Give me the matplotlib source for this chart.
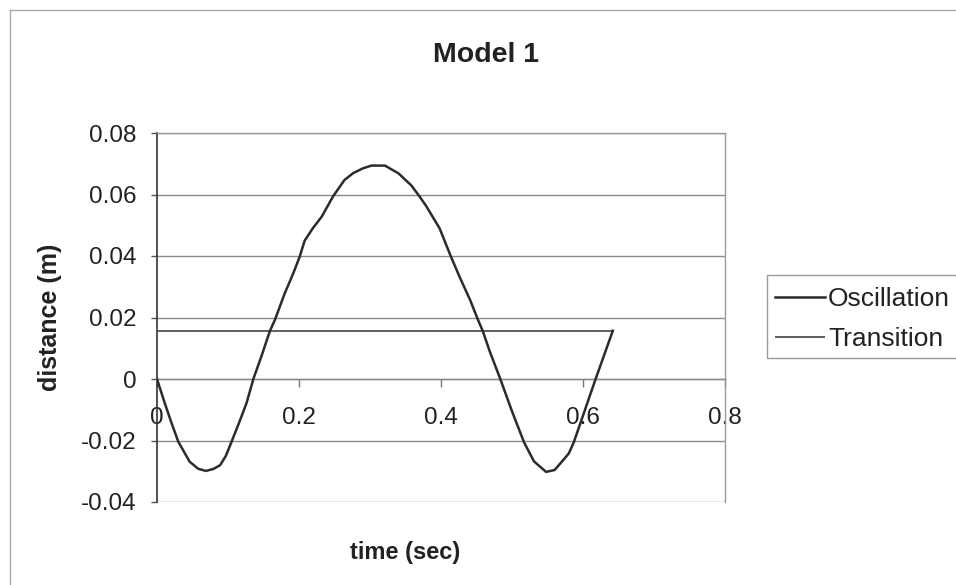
import matplotlib
matplotlib.use("Agg")
import matplotlib.pyplot as plt
from matplotlib.lines import Line2D
from matplotlib.patches import Rectangle

# Oscillation trace: time (s) and distance (m)
time_s = [0.000, 0.011, 0.020, 0.030, 0.046, 0.058, 0.069, 0.080, 0.089, 0.097,
          0.105, 0.116, 0.126, 0.136, 0.148, 0.159, 0.166, 0.180, 0.192, 0.201,
          0.208, 0.220, 0.232, 0.248, 0.264, 0.276, 0.290, 0.302, 0.321, 0.340,
          0.358, 0.370, 0.379, 0.398, 0.414, 0.426, 0.441, 0.452, 0.459, 0.468,
          0.484, 0.500, 0.517, 0.531, 0.548, 0.560, 0.572, 0.580, 0.587, 0.600,
          0.617, 0.642]
distance_m = [0.0000, -0.0079, -0.0140, -0.0204, -0.0269, -0.0292, -0.0299, -0.0292, -0.0280, -0.0250,
              -0.0204, -0.0140, -0.0079, 0.0002, 0.0080, 0.0156, 0.0192, 0.0279, 0.0344, 0.0398,
              0.0450, 0.0492, 0.0528, 0.0594, 0.0647, 0.0669, 0.0685, 0.0694, 0.0694, 0.0669,
              0.0630, 0.0593, 0.0563, 0.0490, 0.0398, 0.0333, 0.0257, 0.0193, 0.0155, 0.0094,
              -0.0003, -0.0105, -0.0206, -0.0268, -0.0302, -0.0296, -0.0264, -0.0242, -0.0206, -0.0119,
              -0.0005, 0.0157]

# Transition level
transition_t = [0.0, 0.642]
transition_d = [0.0157, 0.0157]

x_ticks = [0.0, 0.2, 0.4, 0.6, 0.8]
x_tick_labels = ["0", "0.2", "0.4", "0.6", "0.8"]
y_ticks = [-0.04, -0.02, 0.0, 0.02, 0.04, 0.06, 0.08]
y_tick_labels = ["-0.04", "-0.02", "0", "0.02", "0.04", "0.06", "0.08"]

plt.rcParams['font.family'] = ['Liberation Sans', 'DejaVu Sans']

W, H = 956, 585
fig = plt.figure(figsize=(W / 100, H / 100), dpi=100)
fig.patch.set_facecolor('white')

ax = fig.add_axes([157 / W, (H - 502) / H, (725 - 157) / W, (502 - 133) / H])
ax.set_xlim(0, 0.8)
ax.set_ylim(-0.04, 0.08)

grid_col = '#8a8a8a'
for yv in y_ticks:
    ax.axhline(yv, color=grid_col, lw=1.0, zorder=1)

trans, = ax.plot(transition_t, transition_d, color='#5e5e5e', lw=1.4, zorder=3,
                 label='Transition', solid_capstyle='butt')
osc, = ax.plot(time_s, distance_m, color='#2b2b2b', lw=1.8, zorder=4,
               label='Oscillation')

for side in ('top', 'right'):
    ax.spines[side].set_color('#9a9a9a')
    ax.spines[side].set_linewidth(1.0)
ax.spines['left'].set_color('#333333')
ax.spines['left'].set_linewidth(1.2)
ax.spines['bottom'].set_position(('data', 0))
ax.spines['bottom'].set_color(grid_col)
ax.spines['bottom'].set_linewidth(1.0)

ax.set_xticks(x_ticks, x_tick_labels)
ax.set_yticks(y_ticks, y_tick_labels)
ax.tick_params(axis='x', direction='out', length=5.5, width=1.0, color='#777777',
               pad=14.5, labelsize=17.5, labelcolor='#222222')
ax.tick_params(axis='y', direction='out', length=4.5, width=1.0, color='#555555',
               pad=10, labelsize=17.5, labelcolor='#222222')

fig.text(486 / W, 1 - 55 / H, 'Model 1', ha='center', va='center',
         fontsize=20.5, fontweight='bold', color='#222222')
fig.text(405 / W, 1 - 552 / H, 'time (sec)', ha='center', va='center',
         fontsize=17, fontweight='bold', color='#222222')
fig.text(50 / W, 1 - 317 / H, 'distance (m)', ha='center', va='center',
         rotation=90, fontsize=18, fontweight='bold', color='#222222')

leg = fig.legend([osc, trans], ['Oscillation', 'Transition'], loc='upper left',
                 bbox_to_anchor=(767 / W, 1 - 279 / H), bbox_transform=fig.transFigure,
                 fontsize=19, frameon=False, borderpad=0.3,
                 labelspacing=0.62, handlelength=1.9, handletextpad=0.12,
                 borderaxespad=0.0)
for t in leg.get_texts():
    t.set_color('#222222')

# legend frame, running off the right edge
fig.add_artist(Rectangle((767 / W, 1 - 358 / H), 220 / W, 83 / H,
                         transform=fig.transFigure, facecolor='none',
                         edgecolor='#9a9a9a', lw=1.0, zorder=0))

# outer chart border
fig.add_artist(Line2D([10 / W, 1.0], [1 - 10 / H, 1 - 10 / H], transform=fig.transFigure,
                      color='#a8a8a8', lw=1.0))
fig.add_artist(Line2D([10 / W, 10 / W], [0.0, 1 - 10 / H], transform=fig.transFigure,
                      color='#a8a8a8', lw=1.0))

fig.savefig('out.png', dpi=100, facecolor='white')
